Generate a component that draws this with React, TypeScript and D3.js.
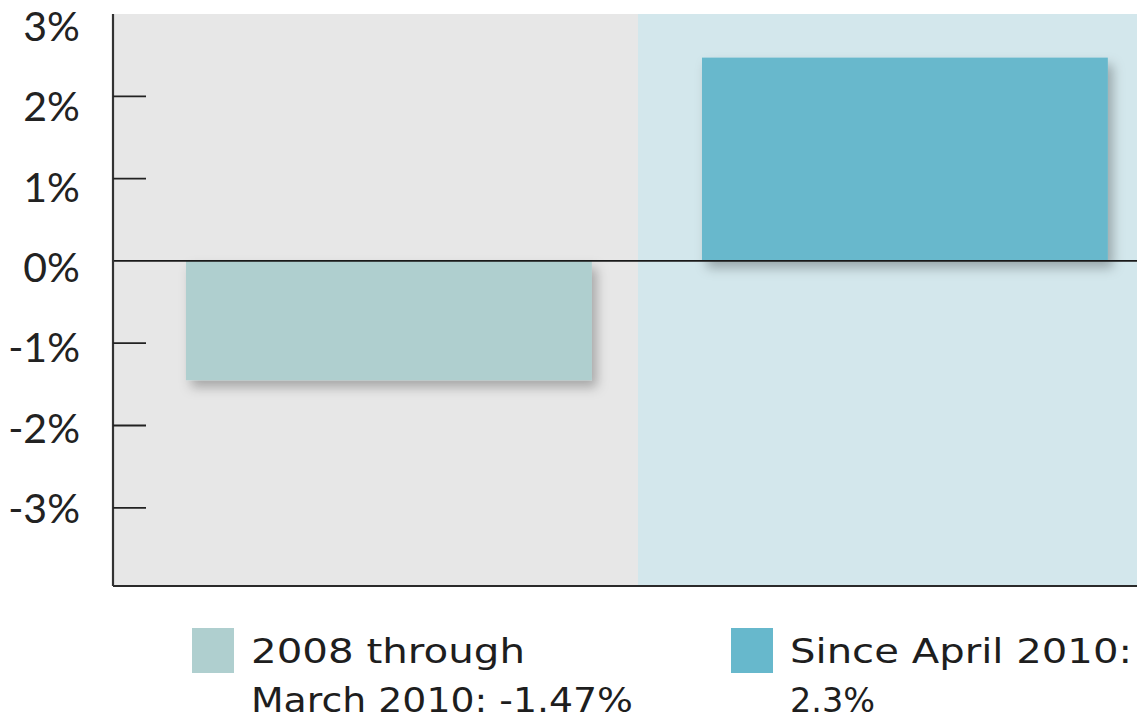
import React, { useEffect, useRef } from 'react';
import * as d3 from 'd3';

// --- chart data ---
const periods = ['2008 through March 2010', 'Since April 2010'];
const periodValues = [-1.45, 2.47]; // bar heights in % as drawn
const periodColors = ['#afcfcf', '#67b8cc'];
const bandColors = ['#e7e7e7', '#d3e7ec'];
const legendLines = [
  ['2008 through', 'March 2010: -1.47%'],
  ['Since April 2010:', '2.3%'],
];
const legendWidths = [
  [274, 382],
  [342, 85],
];
const yTicks = [-3, -2, -1, 0, 1, 2, 3];

const W = 1137;
const H = 719;

export default function App() {
  const svgRef = useRef<SVGSVGElement>(null);

  useEffect(() => {
    const svg = d3.select(svgRef.current);
    svg.selectAll('*').remove();

    const left = 113;
    const top = 14;
    const bottom = 586;

    const x = d3.scaleBand<string>().domain(periods).range([left, left + 2 * 525]).padding(0);
    const y = d3.scaleLinear().domain([-3.95, 3]).range([bottom, top]);

    const defs = svg.append('defs');
    const f = defs.append('filter').attr('id', 'barShadow')
      .attr('x', '-10%').attr('y', '-10%').attr('width', '130%').attr('height', '140%');
    f.append('feDropShadow')
      .attr('dx', 5).attr('dy', 7).attr('stdDeviation', 6)
      .attr('flood-color', '#000').attr('flood-opacity', 0.28);

    // background bands
    svg.append('g').selectAll('rect')
      .data(periods)
      .join('rect')
      .attr('x', d => x(d)!)
      .attr('y', top)
      .attr('width', x.bandwidth())
      .attr('height', bottom - top)
      .attr('fill', (d, i) => bandColors[i]);

    // bars
    const barW = x.bandwidth() * 0.773;
    const barOff = [73, 64];
    svg.append('g').selectAll('rect')
      .data(periodValues)
      .join('rect')
      .attr('x', (d, i) => x(periods[i])! + barOff[i])
      .attr('y', d => y(Math.max(0, d)))
      .attr('width', barW)
      .attr('height', d => Math.abs(y(d) - y(0)))
      .attr('fill', (d, i) => periodColors[i])
      .attr('filter', 'url(#barShadow)');

    // zero line
    svg.append('line')
      .attr('x1', left).attr('x2', W)
      .attr('y1', y(0)).attr('y2', y(0))
      .attr('stroke', '#1a1a1a').attr('stroke-width', 1.6);

    // bottom line
    svg.append('line')
      .attr('x1', left).attr('x2', W)
      .attr('y1', bottom).attr('y2', bottom)
      .attr('stroke', '#2a2a2a').attr('stroke-width', 2.2);

    // y axis
    const axis = svg.append('g');
    axis.append('line')
      .attr('x1', left).attr('x2', left)
      .attr('y1', top).attr('y2', bottom)
      .attr('stroke', '#333').attr('stroke-width', 2.2);
    axis.selectAll('line.tick')
      .data(yTicks.filter(t => t !== 0 && t !== 3))
      .join('line')
      .attr('class', 'tick')
      .attr('x1', left).attr('x2', 146)
      .attr('y1', d => y(d)).attr('y2', d => y(d))
      .attr('stroke', '#222').attr('stroke-width', 1.8);
    // labels sit a little below their ticks, as in the original artwork
    axis.selectAll('text')
      .data(yTicks)
      .join('text')
      .attr('x', 80)
      .attr('y', d => y(d) + 21 + d * 2)
      .attr('text-anchor', 'end')
      .attr('font-family', 'Lato, "Open Sans", sans-serif')
      .attr('font-size', 41)
      .attr('fill', '#222')
      .text(d => `${d}%`);

    // legend
    const legendX = [192, 731];
    const lg = svg.append('g');
    periods.forEach((p, i) => {
      lg.append('rect')
        .attr('x', legendX[i]).attr('y', 628)
        .attr('width', 42).attr('height', 45)
        .attr('fill', periodColors[i]);
      legendLines[i].forEach((line, j) => {
        lg.append('text')
          .attr('x', legendX[i] + 59)
          .attr('y', 663 + j * 49)
          .attr('font-family', '"DejaVu Sans", sans-serif')
          .attr('font-size', 33)
          .attr('fill', '#1e1e1e')
          .attr('textLength', legendWidths[i][j])
          .attr('lengthAdjust', 'spacingAndGlyphs')
          .text(line);
      });
    });
  }, []);

  return (
    <svg
      ref={svgRef}
      width={W}
      height={H}
      style={{ position: 'absolute', left: 0, top: 0, background: '#fff' }}
    />
  );
}
